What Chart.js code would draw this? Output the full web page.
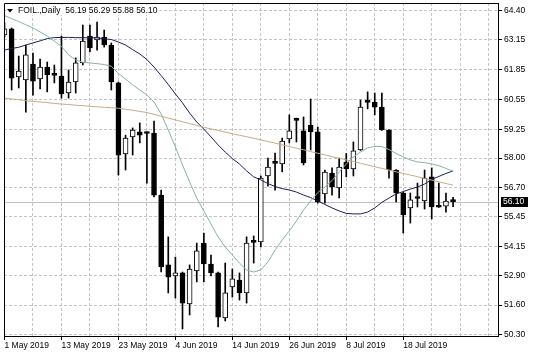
<!DOCTYPE html>
<html><head><meta charset="utf-8">
<script src="https://cdn.jsdelivr.net/npm/chart.js@4.4.1/dist/chart.umd.min.js"></script>
<style>html,body{margin:0;padding:0;background:#fff;}canvas{display:block;}</style>
</head><body>
<canvas id="c" width="536" height="358"></canvas>
<script>
const symbolName = 'FOIL.,Daily';
const dateLabels = ['1 May 2019','13 May 2019','23 May 2019','4 Jun 2019','14 Jun 2019','26 Jun 2019','8 Jul 2019','18 Jul 2019'];
const yTickLabels = ['50.30','51.60','52.90','54.15','55.45','56.70','58.00','59.25','60.55','61.85','63.15','64.40'];

const openP = [63.36,63.62,61.53,61.40,62.09,61.44,61.96,61.63,61.57,60.83,
  61.31,62.14,63.31,63.14,63.27,62.92,61.27,58.18,58.92,59.14,
  59.09,59.09,56.39,53.35,52.87,53.00,51.65,53.09,54.30,53.39,
  53.00,51.04,52.39,52.69,52.13,54.35,54.35,57.22,57.79,57.74,
  58.83,59.66,59.18,59.44,59.14,56.44,57.35,56.70,57.83,57.53,
  58.35,60.44,60.44,60.22,59.22,57.48,56.48,55.83,56.26,56.13,
  57.18,55.88,55.91,56.19];
const highP = [63.88,63.66,62.44,62.92,62.57,62.31,62.18,62.05,63.31,61.83,
  62.36,63.79,63.79,63.92,63.57,63.01,61.31,59.00,59.31,59.53,
  59.14,59.61,56.61,54.57,53.69,53.04,53.35,54.30,54.74,53.78,
  53.04,53.43,53.17,53.00,54.57,54.61,57.22,58.00,58.22,58.87,
  59.88,59.74,59.79,60.57,59.35,57.48,57.57,58.00,58.20,58.70,
  60.53,60.88,60.83,60.83,59.24,57.50,56.52,56.48,56.91,57.48,
  57.57,56.91,56.48,56.29];
const lowP = [63.27,60.96,61.05,60.00,60.74,61.01,60.88,61.27,60.61,60.61,
  60.83,62.05,62.62,62.70,62.83,60.96,57.26,57.48,58.13,58.66,
  56.91,56.31,53.04,52.13,51.91,50.56,51.17,52.61,52.61,52.87,
  50.65,50.91,51.95,51.82,51.69,53.43,54.13,56.78,56.60,57.40,
  58.66,58.70,57.70,58.35,56.04,56.04,56.39,56.26,57.18,57.22,
  58.33,60.14,59.88,59.20,57.13,56.09,54.74,55.17,55.87,55.78,
  55.35,55.85,55.65,55.88];
const closeP = [63.62,61.48,61.79,62.49,61.35,61.96,61.62,61.60,60.79,61.31,
  62.14,63.09,62.79,63.27,62.92,61.31,58.13,58.87,59.22,59.00,
  59.07,56.39,53.26,52.82,53.00,51.69,53.17,53.96,53.39,53.00,
  51.08,52.13,52.74,52.13,54.30,54.33,57.13,57.61,57.77,58.74,
  59.18,59.64,57.79,59.14,56.09,57.39,56.74,57.61,57.53,58.31,
  60.22,60.42,60.22,59.22,57.48,56.48,55.52,56.18,56.24,57.13,
  55.87,55.86,56.13,56.10];

const maFast = [64.20,64.07,63.94,63.80,63.66,63.49,63.31,63.09,62.86,62.49,
  62.27,62.17,62.14,62.11,62.07,62.00,61.68,61.44,61.19,60.96,
  60.74,60.44,59.92,59.22,58.48,57.70,56.96,56.26,55.70,55.13,
  54.57,54.13,53.78,53.43,53.13,53.04,53.13,53.48,54.00,54.43,
  54.83,55.26,55.74,56.13,56.50,56.74,57.02,57.39,57.74,58.05,
  58.26,58.44,58.51,58.50,58.37,58.20,58.05,57.92,57.83,57.80,
  57.74,57.67,57.55,57.42];
const maMid = [62.70,62.77,62.82,62.92,63.01,63.10,63.20,63.24,63.25,63.25,
  63.24,63.24,63.23,63.23,63.19,63.16,63.05,62.92,62.72,62.53,
  62.29,61.96,61.59,61.20,60.79,60.40,59.96,59.57,59.26,58.92,
  58.57,58.26,57.98,57.74,57.44,57.18,57.05,56.89,56.76,56.67,
  56.61,56.52,56.39,56.28,56.13,55.98,55.83,55.70,55.59,55.57,
  55.57,55.65,55.83,56.07,56.26,56.44,56.54,56.65,56.74,56.87,
  57.07,57.20,57.33,57.44];
const maSlow = [60.61,60.57,60.54,60.50,60.46,60.44,60.41,60.38,60.35,60.33,
  60.30,60.28,60.25,60.23,60.21,60.19,60.17,60.12,60.08,60.03,
  59.98,59.90,59.82,59.74,59.66,59.58,59.50,59.42,59.34,59.27,
  59.20,59.13,59.06,58.99,58.93,58.86,58.79,58.72,58.65,58.57,
  58.50,58.43,58.36,58.28,58.21,58.14,58.06,57.99,57.92,57.85,
  57.77,57.70,57.62,57.55,57.48,57.40,57.33,57.26,57.19,57.11,
  57.04,56.97,56.89,56.82];

const FONT = 'Liberation Sans';
const n = closeP.length;
const wickData = openP.map((o, i) => ({x: i, y: [lowP[i], highP[i]]}));
const bodyData = openP.map((o, i) => ({x: i, y: [Math.min(o, closeP[i]), Math.max(o, closeP[i])]}));
const bodyFill = openP.map((o, i) => closeP[i] >= o ? '#ffffff' : '#000000');
const lineData = arr => arr.map((v, i) => ({x: i, y: v}));

const overlay = {
  id: 'overlay',
  beforeDatasetsDraw(chart) {
    const {ctx, chartArea: a, scales: {y}} = chart;
    const py = Math.round(y.getPixelForValue(closeP[n - 1])) + 0.5;
    ctx.save();
    ctx.strokeStyle = '#c0c0c0'; ctx.lineWidth = 1;
    ctx.beginPath(); ctx.moveTo(a.left, py); ctx.lineTo(a.right, py); ctx.stroke();
    ctx.restore();
  },
  afterDraw(chart) {
    const {ctx, chartArea: a, scales: {y}} = chart;
    ctx.save();
    ctx.strokeStyle = '#000'; ctx.lineWidth = 1;
    ctx.beginPath();
    ctx.moveTo(a.left + 0.5, a.bottom); ctx.lineTo(a.left + 0.5, a.top + 0.5); ctx.lineTo(a.right, a.top + 0.5);
    ctx.stroke();
    const k = n - 1;
    const txt = symbolName + '  ' + [openP[k], highP[k], lowP[k], closeP[k]].map(v => v.toFixed(2)).join(' ');
    ctx.font = '8.5px "' + FONT + '"';
    ctx.textBaseline = 'middle';
    ctx.textAlign = 'left';
    const w = ctx.measureText(txt).width;
    ctx.fillStyle = '#fff'; ctx.fillRect(6, 5, w + 14, 10);
    ctx.fillStyle = '#000';
    ctx.beginPath(); ctx.moveTo(7, 9); ctx.lineTo(13, 9); ctx.lineTo(10, 12.5); ctx.closePath(); ctx.fill();
    ctx.fillText(txt, 18, 10.5);
    const py = y.getPixelForValue(closeP[k]);
    ctx.fillStyle = '#000'; ctx.fillRect(a.right + 3, Math.round(py) - 5, 27, 10);
    ctx.fillStyle = '#fff'; ctx.fillText(closeP[k].toFixed(2), a.right + 5, Math.round(py));
    ctx.restore();
  }
};

new Chart(document.getElementById('c'), {
  type: 'bar',
  data: {
    datasets: [
      {type: 'line', data: lineData(maSlow), borderColor: '#c9a886', borderWidth: 1, pointRadius: 0, tension: 0, order: 0},
      {type: 'line', data: lineData(maFast), borderColor: '#84b4a4', borderWidth: 1, pointRadius: 0, tension: 0, order: 0},
      {type: 'line', data: lineData(maMid), borderColor: '#1e1e5a', borderWidth: 1, pointRadius: 0, tension: 0, order: 0},
      {data: bodyData, backgroundColor: bodyFill, borderColor: '#000', borderWidth: 1, borderSkipped: false,
       grouped: false, barThickness: 5, maxBarThickness: 5, minBarLength: 2, order: 1},
      {data: wickData, backgroundColor: '#000', borderWidth: 0, grouped: false, barThickness: 1, maxBarThickness: 1, order: 2}
    ]
  },
  plugins: [overlay],
  options: {
    responsive: false,
    animation: false,
    events: [],
    layout: {padding: {top: 3, left: 4, right: 0, bottom: 0}},
    plugins: {legend: {display: false}, tooltip: {enabled: false}, title: {display: false}},
    scales: {
      x: {
        type: 'linear', bounds: 'data', min: -0.07, max: 69.31, offset: false,
        afterBuildTicks: s => { const t = []; for (let v = 0; v <= 68; v += 4) t.push({value: v}); s.ticks = t; },
        afterFit: s => { s.height = 22; s.paddingLeft = 0; s.paddingRight = 0; },
        ticks: {
          autoSkip: false, maxRotation: 0, align: 'start', padding: 1, color: '#000',
          font: {family: FONT, size: 8.5},
          callback: v => (v % 8 === 0 && v / 8 < dateLabels.length) ? dateLabels[v / 8] : ''
        },
        grid: {
          offset: false, lineWidth: 1, tickLength: 4, tickBorderDash: [], tickWidth: 1,
          color: c => (c.tick && c.tick.value > 0) ? '#c4c4c4' : 'rgba(0,0,0,0)',
          tickColor: c => (c.tick && c.tick.value % 8 === 0 && c.tick.value / 8 < dateLabels.length) ? '#000' : 'rgba(0,0,0,0)'
        },
        border: {display: true, color: '#000', width: 1, dash: [3, 2]}
      },
      y: {
        type: 'linear', position: 'right', bounds: 'data', min: 50.256, max: 64.748,
        afterBuildTicks: s => { s.ticks = yTickLabels.map(l => ({value: parseFloat(l)})); },
        afterFit: s => { s.width = 38; s.paddingTop = 0; s.paddingBottom = 0; },
        ticks: {
          padding: 2, color: '#000', font: {family: FONT, size: 8.5},
          callback: (v, i) => yTickLabels[i]
        },
        grid: {lineWidth: 1, tickLength: 4, tickBorderDash: [], color: '#c4c4c4', tickColor: '#000'},
        border: {display: true, color: '#000', width: 1, dash: [3, 2]}
      }
    }
  }
});
</script>
</body></html>
